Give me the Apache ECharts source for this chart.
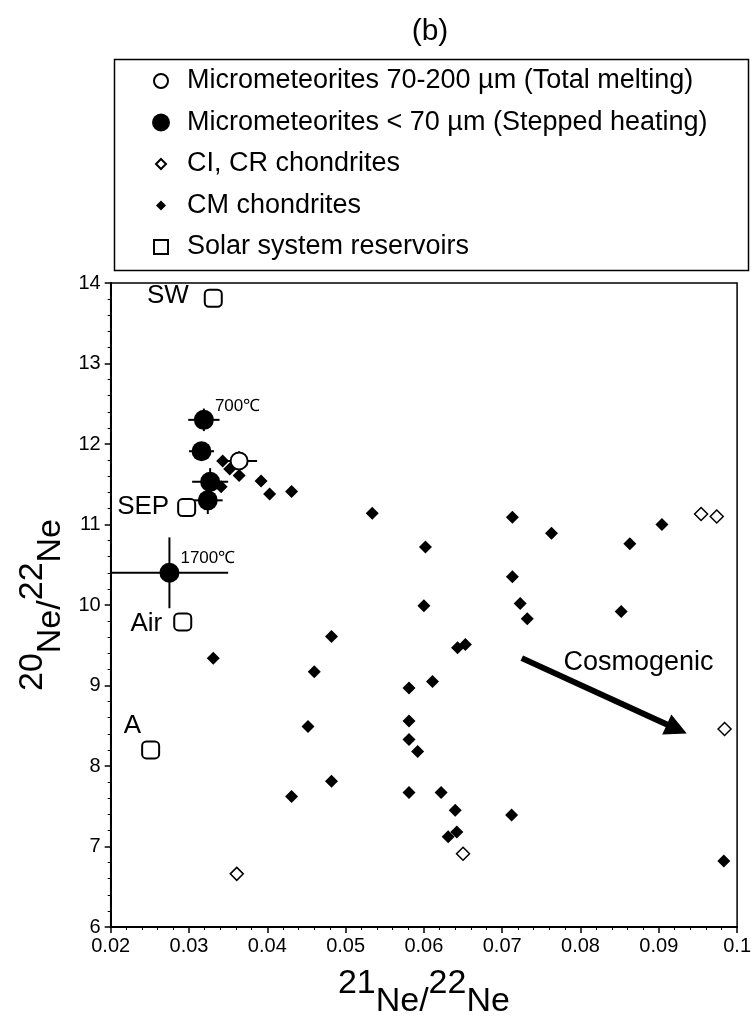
<!DOCTYPE html>
<html>
<head>
<meta charset="utf-8">
<title>Ne isotopes (b)</title>
<script src="https://cdn.jsdelivr.net/npm/echarts@6/dist/echarts.min.js"></script>
<style>
  html, body { margin: 0; padding: 0; background: #fff; }
  #chart { width: 754px; height: 1024px; }
</style>
</head>
<body>
<div id="chart"></div>
<script>
// axis ticks
const xTickLabels = ['0.02', '0.03', '0.04', '0.05', '0.06', '0.07', '0.08', '0.09', '0.1'];
const yTickLabels = ['6', '7', '8', '9', '10', '11', '12', '13', '14'];

// Micrometeorites 70-200 µm (total melting)
const meltX = [0.0364];
const meltY = [11.79];
const meltXErr = [0.0023];
const meltYErr = [0.12];

// Micrometeorites < 70 µm (stepped heating)
const stepX = [0.0319, 0.0316, 0.0327, 0.0324, 0.0275];
const stepY = [12.30, 11.91, 11.53, 11.30, 10.40];
const stepXErr = [0.0020, 0.0016, 0.0023, 0.0019, 0.0075];
const stepYErr = [0.14, 0.08, 0.17, 0.17, 0.44];
const stepTemps = ['700℃', '', '', '', '1700℃'];

// CI, CR chondrites
const ciX = [0.0361, 0.0650, 0.0954, 0.0974, 0.0984];
const ciY = [6.66, 6.91, 11.13, 11.10, 8.46];

// CM chondrites
const cmX = [0.0343, 0.0352, 0.0364, 0.0392, 0.0403, 0.0431, 0.0341, 0.0534, 0.0602, 0.0600,
  0.0482, 0.0331, 0.0460, 0.0581, 0.0611, 0.0452, 0.0581, 0.0581, 0.0592, 0.0482,
  0.0431, 0.0581, 0.0713, 0.0763, 0.0863, 0.0904, 0.0713, 0.0723, 0.0732, 0.0852,
  0.0643, 0.0653, 0.0622, 0.0640, 0.0631, 0.0642, 0.0712, 0.0983];
const cmY = [11.79, 11.69, 11.61, 11.54, 11.38, 11.41, 11.47, 11.14, 10.72, 9.99,
  9.61, 9.34, 9.17, 8.97, 9.05, 8.49, 8.56, 8.33, 8.18, 7.81,
  7.62, 7.67, 11.09, 10.89, 10.76, 11.00, 10.35, 10.02, 9.83, 9.92,
  9.47, 9.51, 7.67, 7.45, 7.12, 7.18, 7.39, 6.82];

// Solar system reservoirs
const solarNames = ['SW', 'SEP', 'Air', 'A'];
const solarX = [0.0331, 0.0297, 0.0292, 0.0251];
const solarY = [13.81, 11.21, 9.79, 8.20];

// cosmogenic trend arrow
const arrowFrom = [0.0725, 9.34];
const arrowTo = [0.0923, 8.46];
const arrowText = 'Cosmogenic';
const arrowTextAt = [0.0874, 9.29];

const legendNames = [
  'Micrometeorites 70-200 µm (Total melting)',
  'Micrometeorites < 70 µm (Stepped heating)',
  'CI, CR chondrites',
  'CM chondrites',
  'Solar system reservoirs',
];

// label offsets for the reservoirs (style only)
const solarLabelPos = { SW: [-15, 7], SEP: [-8, 9], Air: [-11, 11], A: [0, -15] };

const font = 'Liberation Sans, Arial, Helvetica, sans-serif';
const zip = (...cols) => cols[0].map((_, i) => cols.map(c => c[i]));

// error bars: [x, y, xErr, yErr]
const errorBar = (params, api) => {
  const x = api.value(0);
  const y = api.value(1);
  const ex = api.value(2);
  const ey = api.value(3);
  const l = api.coord([x - ex, y]);
  const r = api.coord([x + ex, y]);
  const t = api.coord([x, y + ey]);
  const b = api.coord([x, y - ey]);
  const style = { stroke: '#000', lineWidth: 2 };
  return {
    type: 'group',
    children: [
      { type: 'line', shape: { x1: l[0], y1: l[1], x2: r[0], y2: r[1] }, style },
      { type: 'line', shape: { x1: t[0], y1: t[1], x2: b[0], y2: b[1] }, style },
    ],
  };
};

// legend icons, box 42x18 so they never get stretched
const box = 'M0,0M42,18';
const icons = [
  'path://' + box + 'M28,9A7,7 0 1,1 14,9A7,7 0 1,1 28,9Z',
  'path://' + box + 'M30,9A9,9 0 1,1 12,9A9,9 0 1,1 30,9Z',
  'path://' + box + 'M21,4L26,9L21,14L16,9Z',
  'path://' + box + 'M21,4L26,9L21,14L16,9Z',
  'path://' + box + 'M14,2L28,2L28,16L14,16Z',
];

// superscript mass numbers, element lowered
const isoRich = {
  a: { fontSize: 34, lineHeight: 34, verticalAlign: 'top', fontFamily: font, color: '#000' },
  b: { fontSize: 34, lineHeight: 52, verticalAlign: 'bottom', fontFamily: font, color: '#000' },
};

const tickLabel = (labels, min, step) => v => labels[Math.round((v - min) / step)] ?? '';

const axisCommon = {
  type: 'value',
  nameLocation: 'middle',
  nameTextStyle: { rich: isoRich },
  axisLine: { show: true, onZero: false, lineStyle: { color: '#000', width: 2 } },
  axisTick: { show: true, inside: false, length: 6, lineStyle: { color: '#000', width: 1.5 } },
  minorTick: { show: true, splitNumber: 5, length: 3, lineStyle: { color: '#000', width: 1 } },
  splitLine: { show: false },
};

const chart = echarts.init(document.getElementById('chart'));
chart.setOption({
  animation: false,
  textStyle: { fontFamily: font, color: '#000' },
  title: {
    text: '(b)',
    left: 425,
    top: 12,
    textAlign: 'center',
    textStyle: { fontSize: 30, fontWeight: 'normal', color: '#000', fontFamily: font },
  },
  graphic: [
    {
      type: 'rect',
      left: 112,
      top: 57,
      shape: { width: 634, height: 211 },
      style: { fill: 'none', stroke: '#000', lineWidth: 1.5 },
      silent: true,
    },
  ],
  legend: {
    orient: 'vertical',
    left: 139,
    top: 66,
    padding: 0,
    itemWidth: 42,
    itemHeight: 18,
    itemGap: 11.5,
    selectedMode: false,
    textStyle: { color: '#000', fontSize: 27, lineHeight: 30, fontFamily: font },
    data: legendNames.map((name, i) => ({ name, icon: icons[i] })),
  },
  grid: {
    left: 110.7,
    right: 12,
    top: 283,
    bottom: 95,
    show: true,
    borderColor: '#000',
    borderWidth: 1.5,
  },
  xAxis: {
    ...axisCommon,
    min: 0.02,
    max: 0.1,
    interval: 0.01,
    name: '{a|21}{b|Ne/}{a|22}{b|Ne}',
    nameGap: 40,
    axisLabel: {
      margin: 9,
      fontSize: 20,
      color: '#000',
      fontFamily: font,
      formatter: tickLabel(xTickLabels, 0.02, 0.01),
    },
  },
  yAxis: {
    ...axisCommon,
    min: 6,
    max: 14,
    interval: 1,
    name: '{a|20}{b|Ne/}{a|22}{b|Ne}',
    nameGap: 38,
    axisLabel: {
      margin: 10,
      fontSize: 20,
      color: '#000',
      fontFamily: font,
      formatter: tickLabel(yTickLabels, 6, 1),
    },
  },
  series: [
    {
      type: 'custom',
      name: 'meltErr',
      renderItem: errorBar,
      data: zip(meltX, meltY, meltXErr, meltYErr),
      encode: { x: 0, y: 1 },
      clip: true,
      silent: true,
      z: 1,
    },
    {
      type: 'custom',
      name: 'stepErr',
      renderItem: errorBar,
      data: zip(stepX, stepY, stepXErr, stepYErr),
      encode: { x: 0, y: 1 },
      clip: true,
      silent: true,
      z: 1,
    },
    {
      type: 'scatter',
      name: legendNames[3],
      symbol: 'diamond',
      symbolSize: 13,
      itemStyle: { color: '#000', opacity: 1 },
      emphasis: { disabled: true },
      data: zip(cmX, cmY),
      z: 2,
      markLine: {
        silent: true,
        symbol: ['none', 'path://M10,0L20,22L0,22Z'],
        symbolSize: 22,
        label: { show: false },
        lineStyle: { color: '#000', width: 6, type: 'solid', opacity: 1 },
        data: [[{ coord: arrowFrom }, { coord: arrowTo }]],
      },
      markPoint: {
        silent: true,
        symbol: 'circle',
        symbolSize: 0,
        label: { show: true, position: 'inside', formatter: arrowText, fontSize: 27, color: '#000', fontFamily: font },
        data: [{ coord: arrowTextAt }],
      },
    },
    {
      type: 'scatter',
      name: legendNames[2],
      symbol: 'diamond',
      symbolSize: 13,
      itemStyle: { color: '#fff', borderColor: '#000', borderWidth: 1.5, opacity: 1 },
      emphasis: { disabled: true },
      data: zip(ciX, ciY),
      z: 3,
    },
    {
      type: 'scatter',
      name: legendNames[4],
      symbol: 'roundRect',
      symbolSize: 17,
      itemStyle: { color: '#fff', borderColor: '#000', borderWidth: 2, opacity: 1 },
      emphasis: { disabled: true },
      label: {
        show: true,
        formatter: '{b}',
        align: 'right',
        verticalAlign: 'middle',
        fontSize: 26,
        color: '#000',
        fontFamily: font,
      },
      data: solarNames.map((name, i) => ({
        name,
        value: [solarX[i], solarY[i]],
        label: { position: solarLabelPos[name] },
      })),
      z: 3,
    },
    {
      type: 'scatter',
      name: legendNames[0],
      symbol: 'circle',
      symbolSize: 17,
      itemStyle: { color: '#fff', borderColor: '#000', borderWidth: 2, opacity: 1 },
      emphasis: { disabled: true },
      data: zip(meltX, meltY),
      z: 4,
    },
    {
      type: 'scatter',
      name: legendNames[1],
      symbol: 'circle',
      symbolSize: 20,
      itemStyle: { color: '#000', opacity: 1 },
      emphasis: { disabled: true },
      label: {
        show: true,
        formatter: p => stepTemps[p.dataIndex],
        position: [21, -4],
        align: 'left',
        verticalAlign: 'middle',
        fontSize: 17,
        color: '#000',
        fontFamily: font,
      },
      data: zip(stepX, stepY),
      z: 4,
    },
  ],
});
</script>
</body>
</html>
